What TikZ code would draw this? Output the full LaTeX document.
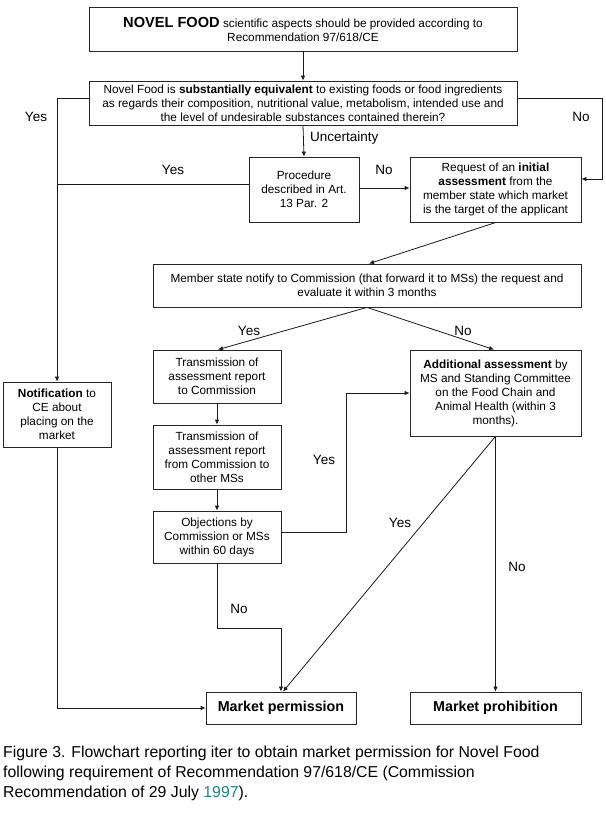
\documentclass[tikz,border=0pt]{standalone}
\usepackage{fontspec}
\setmainfont{Liberation Sans}
\usetikzlibrary{arrows.meta}
\definecolor{capteal}{RGB}{31,128,140}
\begin{document}
\begin{tikzpicture}[x=1pt,y=-1pt,
  box/.style={draw=black!85, line width=0.8pt, rectangle, align=center, inner sep=1pt,
    font=\fontsize{11.8}{14}\selectfont},
  conn/.style={line width=0.8pt, draw=black!90},
  arr/.style={conn, -{Latex[length=5pt,width=4.5pt]}},
  lbl/.style={font=\fontsize{13.5}{16}\selectfont, inner sep=0pt}]
\useasboundingbox (0,0) rectangle (605,819);

% boxes
\node[box, minimum width=428pt, minimum height=44pt] (top) at (303,29)
  {{\fontsize{14.6}{16}\selectfont\bfseries NOVEL FOOD} scientific aspects should be provided according to\\ Recommendation 97/618/CE};
\node[box, minimum width=428pt, minimum height=44pt] (eq) at (303,103)
  {Novel Food is \textbf{substantially equivalent} to existing foods or food ingredients\\ as regards their composition, nutritional value, metabolism, intended use and\\ the level of undesirable substances contained therein?};
\node[box, minimum width=110pt, minimum height=65pt] (proc) at (304,189.5)
  {Procedure\\ described in Art.\\ 13 Par. 2};
\node[box, minimum width=171pt, minimum height=65pt] (req) at (495.5,189.5)
  {Request of an \textbf{initial}\\ \textbf{assessment} from the\\ member state which market\\ is the target of the applicant};
\node[box, minimum width=428pt, minimum height=43pt] (mem) at (367,285.5)
  {Member state notify to Commission (that forward it to MSs) the request and\\ evaluate it within 3 months};
\node[box, minimum width=128pt, minimum height=53pt] (tr1) at (217,376.5)
  {Transmission of\\ assessment report\\ to Commission};
\node[box, minimum width=128pt, minimum height=64pt] (tr2) at (217,457)
  {Transmission of\\ assessment report\\ from Commission to\\ other MSs};
\node[box, minimum width=128pt, minimum height=52pt] (obj) at (217,537)
  {Objections by\\ Commission or MSs\\ within 60 days};
\node[box, minimum width=108pt, minimum height=65pt] (notif) at (57,414.5)
  {\textbf{Notification} to\\ CE about\\ placing on the\\ market};
\node[box, minimum width=171pt, minimum height=86pt] (addl) at (495.5,393)
  {\textbf{Additional assessment} by\\ MS and Standing Committee\\ on the Food Chain and\\ Animal Health (within 3\\ months).};
\node[box, minimum width=150pt, minimum height=32pt, font=\fontsize{14.3}{16}\selectfont\bfseries] (perm) at (281,708)
  {Market permission};
\node[box, minimum width=171pt, minimum height=32pt, font=\fontsize{14.3}{16}\selectfont\bfseries] (proh) at (495.5,708)
  {Market prohibition};

% helper coordinates
\coordinate (lt) at (57,98);
\coordinate (rt) at (602,98);
\coordinate (rb) at (602,179);
\coordinate (yj) at (57,184);
\coordinate (oj) at (346,532);
\coordinate (oa) at (346,393);
\coordinate (nb1) at (217,628);
\coordinate (nb2) at (281,628);
\coordinate (lb) at (57,708);

% connectors
\draw[arr] (top.south) -- (eq.north);
\draw[arr] (eq.west |- lt) -- (lt) -- (notif.north);
\draw[arr] (eq.east |- rt) -- (rt) -- (rb) -- (req.east |- rb);
\draw[arr] (eq.south) -- (proc.north);
\draw[conn] (proc.west |- yj) -- (yj);
\draw[arr] ([yshift=1.5pt]proc.east) -- ([yshift=1.5pt]req.west);
\draw[arr] ([xshift=0.5pt]req.south) -- ([xshift=2pt]mem.north);
\draw[arr] (mem.south) -- ([xshift=1pt]tr1.north);
\draw[arr] (mem.south) -- ([xshift=-1.5pt]addl.north);
\draw[arr] (tr1.south) -- (tr2.north);
\draw[arr] (tr2.south) -- (obj.north);
\draw[arr] (obj.east |- oj) -- (oj) -- (oa) -- (addl.west);
\draw[arr] (obj.south) -- (nb1) -- (nb2) -- (perm.north);
\draw[arr] (addl.south) -- ([xshift=2pt]perm.north);
\draw[arr] (addl.south) -- (proh.north);
\draw[arr] (notif.south) -- (lb) -- (perm.west);

% labels
\node[lbl] (l1) at (36,117) {Yes};
\node[lbl] (l2) at (581,117) {No};
\node[lbl, anchor=west] (l3) at (310,138) {Uncertainty};
\node[lbl] (l4) at (173,170) {Yes};
\node[lbl] (l5) at (384,170) {No};
\node[lbl] (l6) at (249,331) {Yes};
\node[lbl] (l7) at (463,331) {No};
\node[lbl] (l8) at (324,460) {Yes};
\node[lbl] (l9) at (400,523) {Yes};
\node[lbl] (l10) at (239,609) {No};
\node[lbl] (l11) at (517,567) {No};

% caption
\node[anchor=north west, align=left, inner sep=0pt, font=\fontsize{15.8}{20}\selectfont] (cap) at (3,746)
  {Figure 3. Flowchart reporting iter to obtain market permission for Novel Food\\
   following requirement of Recommendation 97/618/CE (Commission\\
   Recommendation of 29 July \textcolor{capteal}{1997}).};
\end{tikzpicture}
\end{document}
